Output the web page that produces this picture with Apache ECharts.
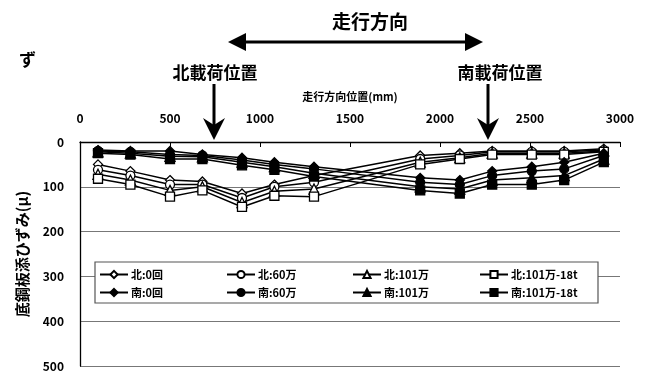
<!DOCTYPE html>
<html>
<head>
<meta charset="utf-8">
<script src="https://cdn.jsdelivr.net/npm/echarts@6/dist/echarts.min.js"></script>
<style>
  html, body { margin: 0; padding: 0; background: #fff; }
  #chart { width: 652px; height: 372px; }
</style>
</head>
<body>
<div id="chart"></div>
<script>
// Measurement positions along the running direction (mm)
const positions = [100, 280, 500, 680, 900, 1080, 1300, 1890, 2110, 2290, 2510, 2690, 2910];

// Bottom steel plate strain (μ), north loading position
const north0   = [50, 65, 85, 88, 115, 95, 75, 30, 25, 20, 20, 20, 15];
const north60  = [62, 75, 95, 95, 125, 100, 90, 38, 30, 22, 22, 22, 18];
const north101 = [72, 85, 108, 100, 135, 110, 105, 45, 35, 25, 25, 25, 20];
const north18t = [82, 95, 122, 108, 145, 120, 122, 50, 38, 28, 28, 28, 22];

// Bottom steel plate strain (μ), south loading position
const south0   = [18, 20, 20, 28, 35, 45, 55, 80, 85, 65, 55, 45, 25];
const south60  = [20, 22, 28, 30, 40, 50, 60, 90, 95, 75, 65, 60, 30];
const south101 = [22, 25, 32, 33, 45, 55, 70, 100, 105, 85, 80, 75, 38];
const south18t = [25, 28, 38, 38, 52, 62, 77, 108, 115, 95, 95, 85, 45];

const xTicks = [0, 3000, 500];   // min, max, interval
const yTicks = [0, 500, 100];

const FONT = '"Noto Sans CJK JP", "Noto Sans", sans-serif';

function pairs(vals) { return positions.map((x, i) => [x, vals[i]]); }

function makeSeries(name, vals, symbol, filled) {
  return {
    name: name,
    type: 'line',
    data: pairs(vals),
    symbol: symbol,
    symbolSize: symbol === 'triangle' ? 10 : 9,
    lineStyle: { color: '#000', width: 1.5 },
    itemStyle: { color: filled ? '#000' : '#fff', borderColor: '#000', borderWidth: 1.3 },
    emphasis: { disabled: true },
    animation: false
  };
}

const seriesList = [
  makeSeries('北:0回', north0, 'diamond', false),
  makeSeries('北:60万', north60, 'circle', false),
  makeSeries('北:101万', north101, 'triangle', false),
  makeSeries('北:101万-18t', north18t, 'rect', false),
  makeSeries('南:0回', south0, 'diamond', true),
  makeSeries('南:60万', south60, 'circle', true),
  makeSeries('南:101万', south101, 'triangle', true),
  makeSeries('南:101万-18t', south18t, 'rect', true)
];

const legendCols = [
  ['北:0回', '南:0回'],
  ['北:60万', '南:60万'],
  ['北:101万', '南:101万'],
  ['北:101万-18t', '南:101万-18t']
];
const legendLeft = [99, 226, 352, 479];

const legends = legendCols.map((names, i) => ({
  data: names,
  orient: 'vertical',
  left: legendLeft[i],
  top: 269,
  z: 20,
  itemGap: 7,
  itemWidth: 28,
  itemHeight: 9,
  padding: 0,
  selectedMode: false,
  textStyle: { fontFamily: FONT, fontSize: 11, fontWeight: 'bold', color: '#000', padding: [0, 0, 0, -2] }
}));

function arrowHead(cx, cy, dir) {
  // dir: 'left' | 'right' | 'down'
  if (dir === 'left')  return [[cx, cy], [cx + 18, cy - 9], [cx + 18, cy + 9]];
  if (dir === 'right') return [[cx, cy], [cx - 18, cy - 9], [cx - 18, cy + 9]];
  return [[cx, cy], [cx - 11, cy - 22], [cx, cy - 15], [cx + 11, cy - 22]];
}

const plainLabel = v => String(v);

const chart = echarts.init(document.getElementById('chart'), null, { renderer: 'canvas' });
chart.setOption({
  backgroundColor: '#fff',
  animation: false,
  grid: { left: 80, right: 32, top: 142, bottom: 5 },
  xAxis: {
    type: 'value',
    position: 'top',
    min: xTicks[0], max: xTicks[1], interval: xTicks[2],
    name: '走行方向位置(mm)',
    nameLocation: 'middle',
    nameGap: 40,
    nameTextStyle: { fontFamily: FONT, fontSize: 11, fontWeight: 'bold', color: '#000' },
    axisLine: { show: true, lineStyle: { color: '#000', width: 1.3 } },
    axisTick: { show: true, inside: true, length: 5, lineStyle: { color: '#000' } },
    axisLabel: { fontFamily: FONT, fontSize: 12, fontWeight: 'bold', color: '#000', margin: 18, formatter: plainLabel },
    splitLine: { show: false }
  },
  yAxis: {
    type: 'value',
    inverse: true,
    min: yTicks[0], max: yTicks[1], interval: yTicks[2],
    name: '底鋼板添ひずみ(μ)',
    nameLocation: 'middle',
    nameGap: 50,
    nameRotate: 90,
    nameTextStyle: { fontFamily: FONT, fontSize: 15, fontWeight: 'bold', color: '#000' },
    axisLine: { show: true, lineStyle: { color: '#000', width: 1.3 } },
    axisTick: { show: false },
    axisLabel: { fontFamily: FONT, fontSize: 12, fontWeight: 'bold', color: '#000', margin: 16, formatter: plainLabel },
    splitLine: { show: true, lineStyle: { color: '#777', width: 1.2 } }
  },
  legend: legends,
  series: seriesList,
  graphic: [
    { type: 'rect', z: 1, shape: { x: 95, y: 262, width: 503, height: 41 },
      style: { fill: '#fff', stroke: '#555', lineWidth: 1.2 } },
    { type: 'text', x: 19, y: 51, style: { text: 'ず', font: 'bold 17px ' + FONT, fill: '#000' } },
    { type: 'text', x: 370, y: 22, style: { text: '走行方向', font: 'bold 19px ' + FONT, fill: '#000', align: 'center', verticalAlign: 'middle' } },
    { type: 'line', shape: { x1: 240, y1: 42, x2: 470, y2: 42 }, style: { stroke: '#000', lineWidth: 3 } },
    { type: 'polygon', shape: { points: arrowHead(228, 42, 'left') }, style: { fill: '#000' } },
    { type: 'polygon', shape: { points: arrowHead(483, 42, 'right') }, style: { fill: '#000' } },
    { type: 'text', x: 215, y: 73, style: { text: '北載荷位置', font: 'bold 17px ' + FONT, fill: '#000', align: 'center', verticalAlign: 'middle' } },
    { type: 'text', x: 500, y: 73, style: { text: '南載荷位置', font: 'bold 17px ' + FONT, fill: '#000', align: 'center', verticalAlign: 'middle' } },
    { type: 'line', shape: { x1: 214, y1: 84, x2: 214, y2: 130 }, style: { stroke: '#000', lineWidth: 3 } },
    { type: 'polygon', shape: { points: arrowHead(214, 140, 'down') }, style: { fill: '#000' } },
    { type: 'line', shape: { x1: 488, y1: 84, x2: 488, y2: 130 }, style: { stroke: '#000', lineWidth: 3 } },
    { type: 'polygon', shape: { points: arrowHead(488, 140, 'down') }, style: { fill: '#000' } }
  ]
});
</script>
</body>
</html>
